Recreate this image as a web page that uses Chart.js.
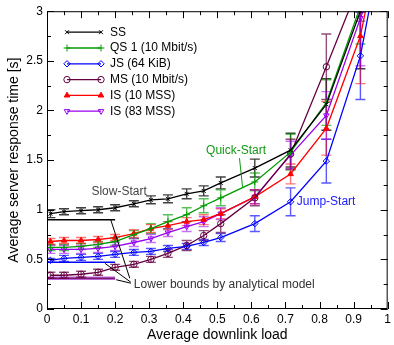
<!DOCTYPE html>
<html>
<head>
<meta charset="utf-8">
<script src="https://cdn.jsdelivr.net/npm/chart.js@4.4.1/dist/chart.umd.min.js"></script>
<style>
  html, body { margin: 0; padding: 0; background: #fff; }
</style>
</head>
<body>
<canvas id="chart" width="394" height="345"></canvas>
<script>
// Measured loads (last point lies above the plotted range)
const loads = [0.01, 0.05, 0.1, 0.15, 0.2, 0.255, 0.305, 0.355, 0.41, 0.46, 0.51, 0.61, 0.715, 0.82, 0.92, 0.97];

// Mean response times [s] and error half-widths
const ssTime  = [0.96, 0.98, 0.99, 1.00, 1.02, 1.06, 1.10, 1.11, 1.16, 1.19, 1.27, 1.42, 1.60, 2.06, 3.00, 4.2];
const ssErr   = [0.04, 0.03, 0.03, 0.03, 0.03, 0.03, 0.04, 0.04, 0.05, 0.05, 0.06, 0.09, 0.17, 0.26, 0.58, 0];
const qsTime  = [0.62, 0.62, 0.63, 0.65, 0.68, 0.75, 0.81, 0.88, 0.95, 1.04, 1.12, 1.28, 1.58, 2.08, 3.05, 4.2];
const qsErr   = [0.03, 0.03, 0.03, 0.03, 0.04, 0.04, 0.05, 0.07, 0.07, 0.07, 0.08, 0.09, 0.18, 0.23, 0.38, 0];
const jsTime  = [0.49, 0.51, 0.52, 0.53, 0.55, 0.57, 0.58, 0.61, 0.63, 0.67, 0.72, 0.86, 1.08, 1.49, 2.55, 3.45];
const jsErr   = [0.02, 0.03, 0.03, 0.03, 0.03, 0.03, 0.03, 0.03, 0.03, 0.03, 0.04, 0.08, 0.14, 0.22, 0.44, 0];
const msTime  = [0.34, 0.34, 0.35, 0.37, 0.42, 0.45, 0.50, 0.56, 0.64, 0.74, 0.86, 1.12, 1.56, 2.44, 3.30, 4.2];
const msErr   = [0.03, 0.03, 0.03, 0.03, 0.03, 0.03, 0.03, 0.04, 0.05, 0.05, 0.09, 0.08, 0.15, 0.33, 0.40, 0];
const is10Time = [0.68, 0.69, 0.69, 0.70, 0.72, 0.76, 0.81, 0.84, 0.88, 0.90, 0.96, 1.13, 1.36, 1.82, 2.75, 3.6];
const is10Err  = [0.03, 0.03, 0.03, 0.03, 0.03, 0.04, 0.04, 0.04, 0.04, 0.05, 0.05, 0.07, 0.10, 0.27, 0.48, 0];
const is83Time = [0.60, 0.60, 0.60, 0.61, 0.63, 0.67, 0.71, 0.77, 0.83, 0.88, 0.96, 1.13, 1.55, 1.95, 2.93, 3.4];
const is83Err  = [0.04, 0.04, 0.04, 0.04, 0.04, 0.04, 0.04, 0.04, 0.05, 0.05, 0.06, 0.07, 0.14, 0.24, 0.48, 0];

// Analytical lower bounds, drawn over load 0..0.2
const boundLoads = [0, 0.2];
const ssBound = 0.90;
const jsBound = 0.47;
const msBound = 0.31;
const is83Bound = 0.31;

const xTickStep = 0.1;
const yTickStep = 0.5;

const FONT = "'Liberation Sans', Arial, Helvetica, sans-serif";

function pts(vals) {
  return vals.map((v, i) => ({ x: loads[i], y: v }));
}

function series(label, vals, errs, color, errColor, style, extra) {
  return Object.assign({
    label: label,
    data: pts(vals),
    errors: errs,
    errColor: errColor,
    borderColor: color,
    backgroundColor: 'rgba(0,0,0,0)',
    borderWidth: 1.3,
    pointStyle: style,
    pointRadius: 3.2,
    pointBorderWidth: 1,
    pointBorderColor: color,
    pointBackgroundColor: 'rgba(0,0,0,0)',
    showLine: true,
    tension: 0
  }, extra || {});
}

const datasets = [
  series('SS', ssTime, ssErr, '#000000', 'rgba(0,0,0,0.75)', 'crossRot', { pointRadius: 2.8 }),
  series('QS 1 (10 Mbit/s)', qsTime, qsErr, '#009a00', 'rgba(0,160,0,0.65)', 'cross', { pointRadius: 3.4 }),
  series('JS (64 KiB)', jsTime, jsErr, '#0000ff', 'rgba(0,0,255,0.65)', 'rectRot'),
  series('MS (10 Mbit/s)', msTime, msErr, '#660040', 'rgba(102,0,64,0.7)', 'circle'),
  series('IS (10 MSS)', is10Time, is10Err, '#ff0000', 'rgba(255,0,0,0.55)', 'triangle', { pointBackgroundColor: '#ff0000' }),
  series('IS (83 MSS)', is83Time, is83Err, '#9900ee', 'rgba(153,0,238,0.55)', 'triangle', { pointRotation: 180 })
];

const bounds = [
  { value: is83Bound, color: 'rgba(170,60,210,0.8)', width: 3.5 },
  { value: msBound, color: '#660040', width: 1 },
  { value: jsBound, color: '#0000ff', width: 1.5 },
  { value: ssBound, color: '#000000', width: 1.5 }
];

// Text labels, placed in data coordinates
const notes = [
  { text: 'Slow-Start', x: 0.2116, y: 1.18, color: '#444444', align: 'center' },
  { text: 'Quick-Start', x: 0.555, y: 1.59, color: '#119911', align: 'center' },
  { text: 'Jump-Start', x: 0.733, y: 1.083, color: '#1a1aff', align: 'left' },
  { text: 'Lower bounds by analytical model', x: 0.255, y: 0.24, color: '#333333', align: 'left' }
];
const leaders = [
  { from: [0.565, 1.52], to: [0.574, 1.23], color: '#119911' },
  { from: [0.243, 0.31], to: [0.187, 0.90], color: '#000000' },
  { from: [0.246, 0.27], to: [0.17, 0.46], color: '#000000' },
  { from: [0.246, 0.26], to: [0.203, 0.295], color: '#000000' }
];

const errorBars = {
  id: 'errorBars',
  beforeDatasetsDraw(chart) {
    const { ctx, chartArea: a, scales: { x, y } } = chart;
    ctx.save();
    ctx.beginPath();
    ctx.rect(a.left, a.top, a.right - a.left, a.bottom - a.top);
    ctx.clip();

    // lower bound lines
    bounds.forEach(b => {
      ctx.strokeStyle = b.color;
      ctx.lineWidth = b.width;
      ctx.beginPath();
      ctx.moveTo(x.getPixelForValue(boundLoads[0]), y.getPixelForValue(b.value));
      ctx.lineTo(x.getPixelForValue(boundLoads[1]), y.getPixelForValue(b.value));
      ctx.stroke();
    });

    chart.data.datasets.forEach(ds => {
      ctx.strokeStyle = ds.errColor;
      ctx.lineWidth = 1.4;
      ds.data.forEach((p, i) => {
        const e = ds.errors[i];
        if (!e) return;
        const px = x.getPixelForValue(p.x);
        const top = y.getPixelForValue(p.y + e);
        const bot = y.getPixelForValue(p.y - e);
        ctx.beginPath();
        ctx.moveTo(px, top); ctx.lineTo(px, bot);
        ctx.moveTo(px - 5, top); ctx.lineTo(px + 5, top);
        ctx.moveTo(px - 5, bot); ctx.lineTo(px + 5, bot);
        ctx.stroke();
      });
    });
    ctx.restore();
  }
};

const frame = {
  id: 'frame',
  afterDraw(chart) {
    const { ctx, chartArea: a, scales: { x, y } } = chart;
    ctx.save();
    ctx.strokeStyle = '#000';
    ctx.lineWidth = 1;
    ctx.strokeRect(a.left + 0.5, a.top + 0.5, a.right - a.left - 1, a.bottom - a.top - 1);

    // inward ticks on all four sides
    ctx.beginPath();
    for (let i = 0; i <= 20; i++) {
      const v = i * 0.05;
      const px = Math.round(x.getPixelForValue(v)) + 0.5;
      const len = i % 2 === 0 ? 7 : 4;
      ctx.moveTo(px, a.bottom); ctx.lineTo(px, a.bottom - len);
      ctx.moveTo(px, a.top); ctx.lineTo(px, a.top + len);
    }
    for (let i = 0; i <= 12; i++) {
      const v = i * 0.25;
      const py = Math.round(y.getPixelForValue(v)) + 0.5;
      const len = i % 2 === 0 ? 7 : 4;
      ctx.moveTo(a.left, py); ctx.lineTo(a.left + len, py);
      ctx.moveTo(a.right, py); ctx.lineTo(a.right - len, py);
    }
    ctx.stroke();

    // annotations
    ctx.font = '12px ' + FONT;
    ctx.textBaseline = 'middle';
    notes.forEach(n => {
      ctx.fillStyle = n.color;
      ctx.textAlign = n.align;
      ctx.fillText(n.text, x.getPixelForValue(n.x), y.getPixelForValue(n.y));
    });
    ctx.lineWidth = 1;
    leaders.forEach(l => {
      ctx.strokeStyle = l.color;
      ctx.beginPath();
      ctx.moveTo(x.getPixelForValue(l.from[0]), y.getPixelForValue(l.from[1]));
      ctx.lineTo(x.getPixelForValue(l.to[0]), y.getPixelForValue(l.to[1]));
      ctx.stroke();
    });

    // legend inside the plot
    const lx0 = a.left + 20, lx1 = a.left + 54, tx = a.left + 63;
    chart.data.datasets.forEach((ds, i) => {
      const ly = a.top + 21 + i * 15.8;
      ctx.strokeStyle = ds.borderColor;
      ctx.lineWidth = ds.borderWidth;
      ctx.beginPath();
      ctx.moveTo(lx0, ly); ctx.lineTo(lx1, ly);
      ctx.stroke();
      const opts = {
        pointStyle: ds.pointStyle,
        radius: ds.pointRadius,
        rotation: ds.pointRotation || 0,
        borderWidth: ds.pointBorderWidth
      };
      ctx.fillStyle = ds.pointBackgroundColor;
      ctx.strokeStyle = ds.pointBorderColor;
      ctx.lineWidth = ds.pointBorderWidth;
      Chart.helpers.drawPoint(ctx, opts, lx0, ly);
      ctx.fillStyle = ds.pointBackgroundColor;
      ctx.strokeStyle = ds.pointBorderColor;
      Chart.helpers.drawPoint(ctx, opts, lx1, ly);
      ctx.fillStyle = '#000';
      ctx.textAlign = 'left';
      ctx.fillText(ds.label, tx, ly);
    });
    ctx.restore();
  }
};

new Chart(document.getElementById('chart'), {
  type: 'scatter',
  data: { datasets: datasets },
  options: {
    responsive: false,
    animation: false,
    devicePixelRatio: 1,
    layout: { padding: { top: 8, right: 2, left: 0, bottom: 0 } },
    plugins: { legend: { display: false }, tooltip: { enabled: false } },
    scales: {
      x: {
        type: 'linear', min: 0, max: 1,
        grid: { display: false, drawTicks: false },
        border: { display: false },
        ticks: {
          stepSize: xTickStep, padding: 3, color: '#000',
          font: { family: FONT, size: 12 },
          maxRotation: 0,
          callback: v => Math.round(v * 10) / 10
        },
        title: { display: true, text: 'Average downlink load', color: '#000', font: { family: FONT, size: 14 }, padding: { top: 2, bottom: 1 } },
        afterFit: s => { s.height = 36; }
      },
      y: {
        type: 'linear', min: 0, max: 3,
        grid: { display: false, drawTicks: false },
        border: { display: false },
        ticks: {
          stepSize: yTickStep, padding: 4, color: '#000',
          font: { family: FONT, size: 12 },
          callback: v => Math.round(v * 10) / 10
        },
        title: { display: true, text: 'Average server response time [s]', color: '#000', font: { family: FONT, size: 14 }, padding: { top: 6, bottom: 2 } },
        afterFit: s => { s.width = 47; }
      }
    }
  },
  plugins: [errorBars, frame]
});
</script>
</body>
</html>
